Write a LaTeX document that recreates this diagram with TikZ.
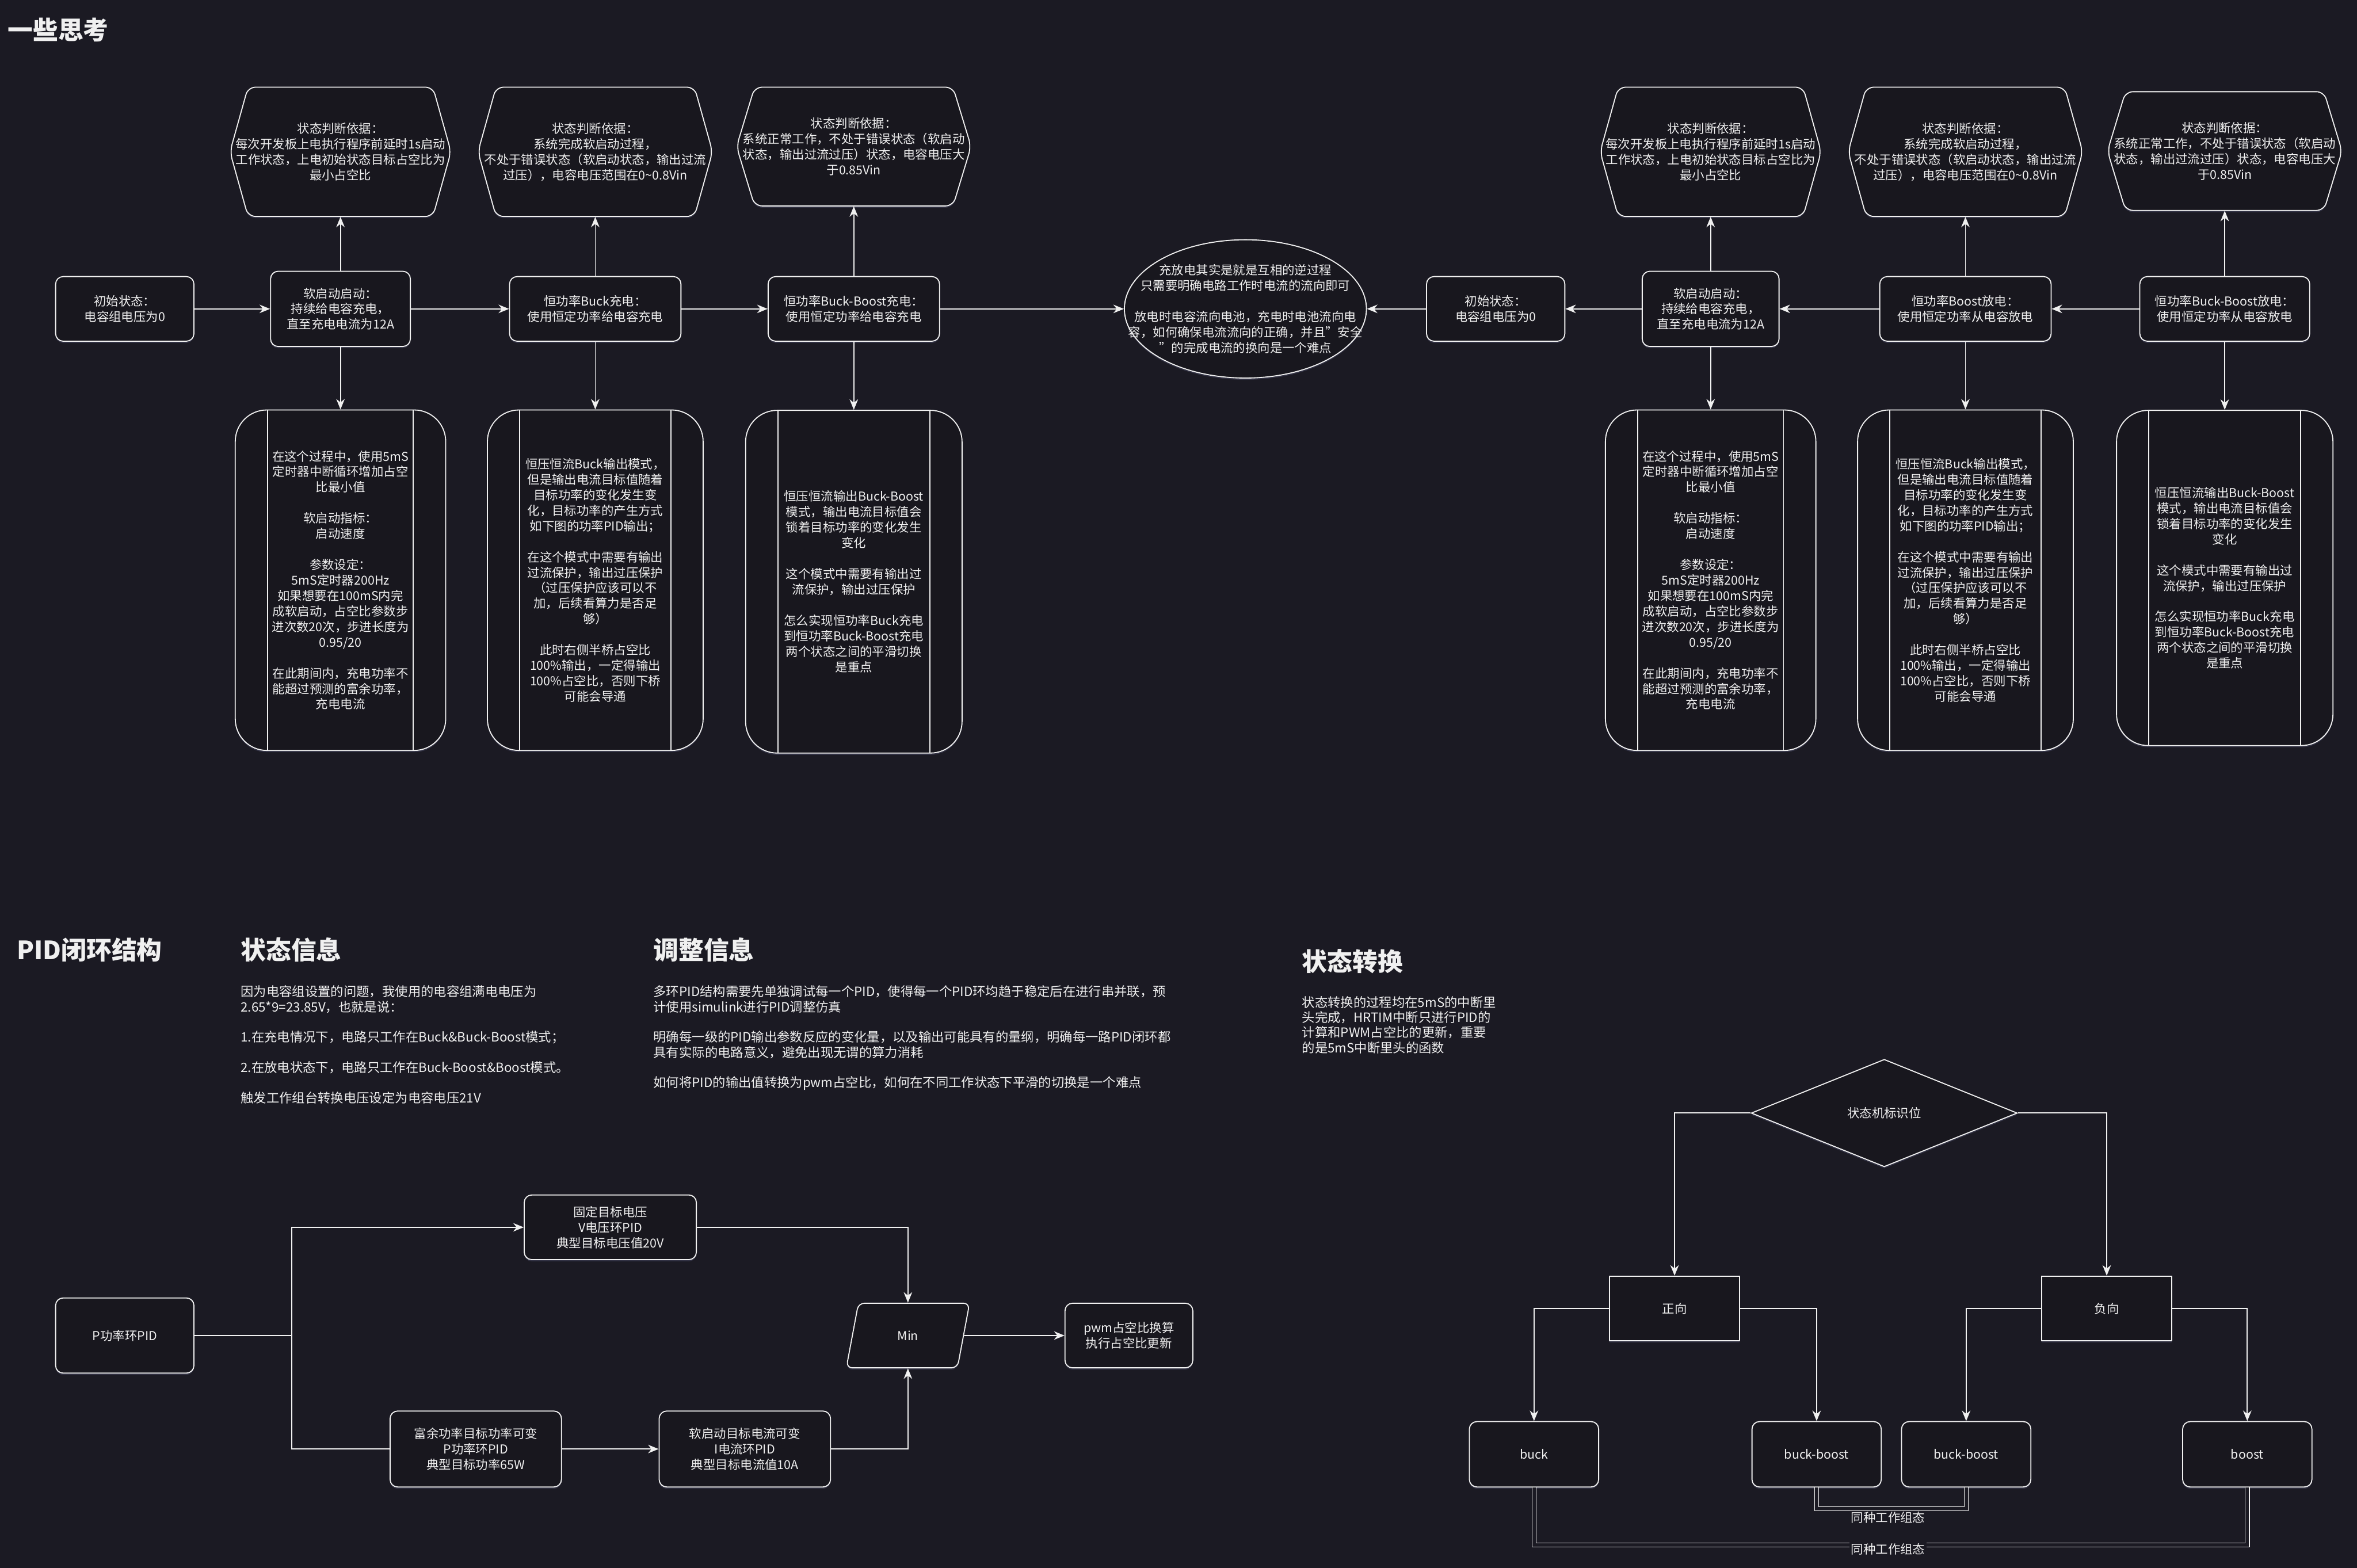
\documentclass[tikz,border=0pt]{standalone}
\usepackage{fontspec}
\setmainfont{Noto Sans CJK SC}
\usetikzlibrary{positioning,shapes.geometric,arrows.meta,shadows}

\definecolor{bgc}{HTML}{1B1A23}
\definecolor{nodec}{HTML}{18171E}
\definecolor{linec}{HTML}{F0F0F0}
\definecolor{glowc}{HTML}{4A4A66}

\newcommand{\pxu}{0.03cm}
\newcommand{\nodefont}{\fontsize{7}{8.8}\selectfont}
\newcommand{\parafont}{\fontsize{7.3}{8.6}\selectfont}
\newcommand{\headfont}{\fontsize{14.3}{17}\selectfont\bfseries}

% texts used on both sides
\newcommand{\judgeA}{状态判断依据：\\每次开发板上电执行程序前延时1s启动\\工作状态，上电初始状态目标占空比为\\最小占空比}
\newcommand{\judgeB}{状态判断依据：\\系统完成软启动过程，\\不处于错误状态（软启动状态，输出过流\\过压），电容电压范围在0\textasciitilde0.8Vin}
\newcommand{\judgeC}{状态判断依据：\\系统正常工作，不处于错误状态（软启动\\状态，输出过流过压）状态，电容电压大\\于0.85Vin}
\newcommand{\noteA}{在这个过程中，使用5mS\\定时器中断循环增加占空\\比最小值\\[8.8pt]软启动指标：\\启动速度\\[8.8pt]参数设定：\\5mS定时器200Hz\\如果想要在100mS内完\\成软启动，占空比参数步\\进次数20次，步进长度为\\0.95/20\\[8.8pt]在此期间内，充电功率不\\能超过预测的富余功率，\\充电电流}
\newcommand{\noteB}{恒压恒流Buck输出模式，\\但是输出电流目标值随着\\目标功率的变化发生变\\化，目标功率的产生方式\\如下图的功率PID输出；\\[8.8pt]在这个模式中需要有输出\\过流保护，输出过压保护\\（过压保护应该可以不\\加，后续看算力是否足\\够）\\[8.8pt]此时右侧半桥占空比\\100\%输出，一定得输出\\100\%占空比，否则下桥\\可能会导通}
\newcommand{\noteC}{恒压恒流输出Buck-Boost\\模式，输出电流目标值会\\锁着目标功率的变化发生\\变化\\[8.8pt]这个模式中需要有输出过\\流保护，输出过压保护\\[8.8pt]怎么实现恒功率Buck充电\\到恒功率Buck-Boost充电\\两个状态之间的平滑切换\\是重点}

% rounded hexagon: name, x, y, width, height, text
\newcommand{\hexnode}[6]{%
  \draw[hexline] (#2,{#3-#5/2}) -- ({#2+#4/2-12},{#3-#5/2}) -- ({#2+#4/2},#3)
    -- ({#2+#4/2-12},{#3+#5/2}) -- ({#2-#4/2+12},{#3+#5/2}) -- ({#2-#4/2},#3)
    -- ({#2-#4/2+12},{#3-#5/2}) -- cycle;
  \node[hexbox, minimum width=#4*\pxu, minimum height=#5*\pxu] (#1) at (#2,#3) {#6};}

\tikzset{
  glow/.style={drop shadow={shadow xshift=0pt, shadow yshift=-1pt, opacity=0.5, fill=glowc}},
  stagebox/.style={draw=linec, fill=nodec, line width=0.6pt, rounded corners=0.15cm, glow,
    text=linec, font=\nodefont, align=center, inner sep=1pt},
  sqbox/.style={draw=linec, fill=nodec, line width=0.6pt, glow,
    text=linec, font=\nodefont, align=center, inner sep=1pt},
  hexline/.style={draw=linec, fill=nodec, line width=0.6pt, rounded corners=0.15cm, glow},
  hexbox/.style={text=linec, font=\nodefont, align=center, inner sep=0pt},
  procbox/.style={draw=linec, fill=nodec, line width=0.6pt, rounded corners=0.63cm, glow,
    text=linec, font=\nodefont, align=center, inner sep=0pt,
    path picture={\draw[linec, line width=0.6pt]
      ([xshift=0.645cm]path picture bounding box.north west) -- ([xshift=0.645cm]path picture bounding box.south west)
      ([xshift=-0.645cm]path picture bounding box.north east) -- ([xshift=-0.645cm]path picture bounding box.south east);}},
  coreell/.style={ellipse, draw=linec, fill=nodec, line width=0.6pt, glow, inner sep=0pt},
  choice/.style={diamond, draw=linec, fill=nodec, line width=0.6pt, glow,
    text=linec, font=\nodefont, inner sep=0pt},
  slant/.style={trapezium, trapezium left angle=75, trapezium right angle=105, trapezium stretches=true,
    draw=linec, fill=nodec, line width=0.6pt, rounded corners=0.12cm, glow,
    text=linec, font=\nodefont, inner sep=0pt},
  headtxt/.style={text=linec, font=\headfont, inner sep=0pt},
  paratxt/.style={text=linec, font=\parafont, align=left, inner sep=0pt},
  tagtxt/.style={text=linec, font=\nodefont, inner sep=1pt},
  conn/.style={draw=linec, line width=0.6pt, -{Stealth[length=2.1mm, width=1.7mm]}},
  wire/.style={draw=linec, line width=0.6pt},
  dbl/.style={draw=linec, line width=0.45pt, double=bgc, double distance=1.9pt}
}

\begin{document}
\begin{tikzpicture}[x=0.03cm, y=-0.03cm]
\fill[bgc] (0,0) rectangle (1568,1043);
\useasboundingbox (0,0) rectangle (1568,1043);

\node[headtxt, anchor=west] (think) at (5,20) {一些思考};

% charging side
\hexnode{judge1}{226.5}{101}{147}{86}{\judgeA}
\hexnode{judge2}{396}{101}{156}{86}{\judgeB}
\hexnode{judge3}{568}{97.5}{156}{79}{\judgeC}

\node[stagebox, minimum width=92*\pxu, minimum height=43*\pxu] (init) at (83,205.5) {初始状态：\\电容组电压为0};
\node[stagebox, minimum width=93*\pxu, minimum height=50*\pxu] (soft) at (226.5,205.5) {软启动启动：\\持续给电容充电，\\直至充电电流为12A};
\node[stagebox, minimum width=114*\pxu, minimum height=43*\pxu] (buckc) at (396,205.5) {恒功率Buck充电：\\使用恒定功率给电容充电};
\node[stagebox, minimum width=114*\pxu, minimum height=43*\pxu] (bbc) at (568,205.5) {恒功率Buck-Boost充电：\\使用恒定功率给电容充电};

\node[procbox, minimum width=140*\pxu, minimum height=226.5*\pxu] (note1) at (226.5,386) {\noteA};
\node[procbox, minimum width=143.5*\pxu, minimum height=226.5*\pxu] (note2) at (396,386) {\noteB};
\node[procbox, minimum width=144*\pxu, minimum height=228*\pxu] (note3) at (568,387) {\noteC};

% middle
\node[coreell, minimum width=161*\pxu, minimum height=92*\pxu] (core) at (828.5,205.5) {};
\node[hexbox] (coretxt) at (core) {充放电其实是就是互相的逆过程\\只需要明确电路工作时电流的流向即可\\[8.8pt]放电时电容流向电池，充电时电池流向电\\容，如何确保电流流向的正确，并且"安全\\"的完成电流的换向是一个难点};

% discharging side
\hexnode{rjudge1}{1138}{101}{147}{86}{\judgeA}
\hexnode{rjudge2}{1307.5}{101}{156}{86}{\judgeB}
\hexnode{rjudge3}{1480}{100.5}{156}{79}{\judgeC}

\node[stagebox, minimum width=92*\pxu, minimum height=43*\pxu] (rinit) at (995,205.5) {初始状态：\\电容组电压为0};
\node[stagebox, minimum width=91*\pxu, minimum height=50*\pxu] (rsoft) at (1138,205.5) {软启动启动：\\持续给电容充电，\\直至充电电流为12A};
\node[stagebox, minimum width=114*\pxu, minimum height=43*\pxu] (boostd) at (1307.5,205.5) {恒功率Boost放电：\\使用恒定功率从电容放电};
\node[stagebox, minimum width=113*\pxu, minimum height=43*\pxu] (bbd) at (1480,205.5) {恒功率Buck-Boost放电：\\使用恒定功率从电容放电};

\node[procbox, minimum width=140*\pxu, minimum height=226.5*\pxu] (rnote1) at (1138,386) {\noteA};
\node[procbox, minimum width=143.5*\pxu, minimum height=226.5*\pxu] (rnote2) at (1307.5,386) {\noteB};
\node[procbox, minimum width=144*\pxu, minimum height=223*\pxu] (rnote3) at (1480,384.5) {\noteC};

\draw[conn] (init) -- (soft);
\draw[conn] (soft) -- (buckc);
\draw[conn] (buckc) -- (bbc);
\draw[conn] (bbc) -- (core);
\draw[conn] (bbd) -- (boostd);
\draw[conn] (boostd) -- (rsoft);
\draw[conn] (rsoft) -- (rinit);
\draw[conn] (rinit) -- (core);
\foreach \s/\j/\n in {soft/judge1/note1, buckc/judge2/note2, bbc/judge3/note3,
                      rsoft/rjudge1/rnote1, boostd/rjudge2/rnote2, bbd/rjudge3/rnote3}{
  \draw[conn] (\s) -- (\s |- \j.south);
  \draw[conn] (\s) -- (\n);
}

% PID section
\node[headtxt, anchor=west] (pidhead) at (11,632) {PID闭环结构};
\node[headtxt, anchor=west] (statehead) at (160,632) {状态信息};
\node[headtxt, anchor=west] (tunehead) at (434.5,632) {调整信息};
\node[headtxt, anchor=west] (switchhead) at (866,639.5) {状态转换};

\node[paratxt, anchor=north west] (statetxt) at (160,655.5) {因为电容组设置的问题，我使用的电容组满电电压为\\2.65*9=23.85V，也就是说：\\[8.6pt]1.在充电情况下，电路只工作在Buck\&Buck-Boost模式；\\[8.6pt]2.在放电状态下，电路只工作在Buck-Boost\&Boost模式。\\[8.6pt]触发工作组台转换电压设定为电容电压21V};
\node[paratxt, anchor=north west] (tunetxt) at (434.5,655.5) {多环PID结构需要先单独调试每一个PID，使得每一个PID环均趋于稳定后在进行串并联，预\\计使用simulink进行PID调整仿真\\[8.6pt]明确每一级的PID输出参数反应的变化量，以及输出可能具有的量纲，明确每一路PID闭环都\\具有实际的电路意义，避免出现无谓的算力消耗\\[8.6pt]如何将PID的输出值转换为pwm占空比，如何在不同工作状态下平滑的切换是一个难点};
\node[paratxt, anchor=north west] (switchtxt) at (866,662.5) {状态转换的过程均在5mS的中断里\\头完成，HRTIM中断只进行PID的\\计算和PWM占空比的更新，重要\\的是5mS中断里头的函数};

\node[stagebox, minimum width=92*\pxu, minimum height=50*\pxu] (ppid) at (83,888.5) {P功率环PID};
\node[stagebox, minimum width=114.5*\pxu, minimum height=43*\pxu] (vpid) at (406,816.5) {固定目标电压\\V电压环PID\\典型目标电压值20V};
\node[stagebox, minimum width=114*\pxu, minimum height=50.5*\pxu] (spare) at (316.5,964) {富余功率目标功率可变\\P功率环PID\\典型目标功率65W};
\node[stagebox, minimum width=114*\pxu, minimum height=50.5*\pxu] (ipid) at (495.5,964) {软启动目标电流可变\\I电流环PID\\典型目标电流值10A};
\node[slant, minimum width=82*\pxu, minimum height=43*\pxu] (minsel) at (604,888.5) {Min};
\node[stagebox, minimum width=85*\pxu, minimum height=43*\pxu] (pwm) at (751,888.5) {pwm占空比换算\\执行占空比更新};
\coordinate (split) at (194,888.5);

\draw[wire] (ppid) -- (split);
\draw[conn] (split) |- (vpid);
\draw[wire] (split) |- (spare);
\draw[conn] (spare) -- (ipid);
\draw[conn] (vpid) -| (minsel);
\draw[conn] (ipid) -| (minsel);
\draw[conn] (minsel) -- (pwm);

% state machine
\node[choice, minimum width=177*\pxu, minimum height=71.5*\pxu] (flag) at (1253.5,740.5) {状态机标识位};
\node[sqbox, minimum width=86.5*\pxu, minimum height=43*\pxu] (fwd) at (1114,870.5) {正向};
\node[sqbox, minimum width=86.5*\pxu, minimum height=43*\pxu] (rev) at (1401.5,870.5) {负向};
\node[stagebox, minimum width=86*\pxu, minimum height=43.5*\pxu] (mbuck) at (1020.5,967.5) {buck};
\node[stagebox, minimum width=86*\pxu, minimum height=43.5*\pxu] (mbb1) at (1208.5,967.5) {buck-boost};
\node[stagebox, minimum width=86*\pxu, minimum height=43.5*\pxu] (mbb2) at (1308,967.5) {buck-boost};
\node[stagebox, minimum width=86*\pxu, minimum height=43.5*\pxu] (mboost) at (1495,967.5) {boost};
\coordinate (link1) at (1258,1003.7);
\coordinate (link2) at (1258,1027.8);

\draw[conn] (flag) -| (fwd);
\draw[conn] (flag) -| (rev);
\draw[conn] (fwd) -| (mbuck);
\draw[conn] (fwd) -| (mbb1);
\draw[conn] (rev) -| (mbb2);
\draw[conn] (rev) -| (mboost);
\draw[dbl] (mbb1.south) |- (link1) -| (mbb2.south);
\draw[dbl] (mbuck.south) |- (link2) -| (mboost.south);
\node[tagtxt] (same1) at (1256,1009.5) {同种工作组态};
\node[tagtxt, fill=bgc] (same2) at (1256,1030.5) {同种工作组态};
\end{tikzpicture}
\end{document}
